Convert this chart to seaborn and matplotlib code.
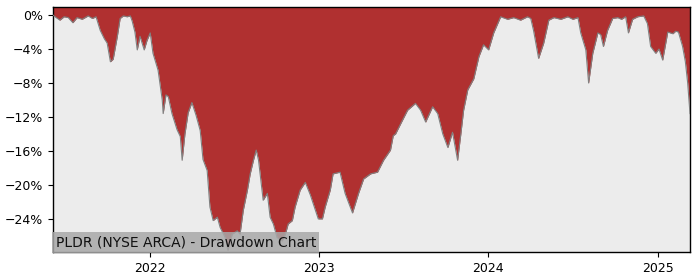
import matplotlib
matplotlib.use("Agg")
import matplotlib.pyplot as plt
import matplotlib.dates as mdates
from matplotlib.ticker import PercentFormatter, MultipleLocator
import seaborn as sns
import pandas as pd

dates = [
    "2021-06-05", "2021-06-12", "2021-06-20", "2021-06-29", "2021-07-08", "2021-07-18",
    "2021-07-27", "2021-08-07", "2021-08-20", "2021-08-29", "2021-09-06", "2021-09-15",
    "2021-09-24", "2021-09-30", "2021-10-07", "2021-10-13", "2021-10-22", "2021-10-28",
    "2021-11-04", "2021-11-12", "2021-11-19", "2021-11-23", "2021-11-29", "2021-12-04",
    "2021-12-10", "2021-12-19", "2021-12-25", "2022-01-01", "2022-01-07", "2022-01-18",
    "2022-01-27", "2022-01-29", "2022-02-04", "2022-02-09", "2022-02-17", "2022-02-28",
    "2022-03-07", "2022-03-11", "2022-03-17", "2022-03-24", "2022-04-01", "2022-04-10",
    "2022-04-19", "2022-04-25", "2022-05-04", "2022-05-10", "2022-05-17", "2022-05-26",
    "2022-06-01", "2022-06-12", "2022-06-18", "2022-06-27", "2022-07-08", "2022-07-14",
    "2022-07-21", "2022-07-30", "2022-08-05", "2022-08-12", "2022-08-18", "2022-08-23",
    "2022-09-02", "2022-09-11", "2022-09-17", "2022-09-24", "2022-10-02", "2022-10-13",
    "2022-10-20", "2022-10-26", "2022-11-04", "2022-11-10", "2022-11-21", "2022-12-02",
    "2022-12-13", "2022-12-24", "2022-12-30", "2023-01-08", "2023-01-14", "2023-01-25",
    "2023-01-31", "2023-02-15", "2023-02-26", "2023-03-14", "2023-03-27", "2023-04-07",
    "2023-04-22", "2023-05-07", "2023-05-20", "2023-06-04", "2023-06-10", "2023-06-15",
    "2023-06-26", "2023-07-11", "2023-07-28", "2023-08-08", "2023-08-19", "2023-09-03",
    "2023-09-14", "2023-09-25", "2023-10-06", "2023-10-16", "2023-10-27", "2023-11-03",
    "2023-11-09", "2023-11-18", "2023-12-01", "2023-12-12", "2023-12-22", "2024-01-02",
    "2024-01-13", "2024-01-28", "2024-02-12", "2024-02-25", "2024-03-11", "2024-03-26",
    "2024-04-02", "2024-04-08", "2024-04-19", "2024-04-30", "2024-05-11", "2024-05-22",
    "2024-06-06", "2024-06-21", "2024-07-02", "2024-07-13", "2024-07-19", "2024-07-30",
    "2024-08-05", "2024-08-14", "2024-08-25", "2024-08-31", "2024-09-06", "2024-09-15",
    "2024-09-26", "2024-10-07", "2024-10-15", "2024-10-24", "2024-10-30", "2024-11-08",
    "2024-11-19", "2024-12-02", "2024-12-10", "2024-12-17", "2024-12-28", "2025-01-04",
    "2025-01-12", "2025-01-23", "2025-02-03", "2025-02-09", "2025-02-15", "2025-02-24",
    "2025-03-02", "2025-03-07", "2025-03-12",
]

drawdown = [
    0.0, -0.3, -0.6, -0.2, -0.3, -0.9,
    -0.3, -0.5, -0.1, -0.4, -0.2, -1.8,
    -2.8, -3.3, -5.5, -5.2, -2.5, -0.4,
    -0.1, -0.2, -0.1, -0.7, -2.0, -4.1,
    -2.5, -4.1, -3.0, -2.1, -4.5, -6.5,
    -10.0, -11.6, -9.4, -9.6, -11.6, -13.5,
    -14.3, -17.1, -14.0, -11.5, -10.3, -11.8,
    -13.6, -17.0, -18.3, -22.6, -24.2, -23.8,
    -25.0, -26.2, -27.7, -25.8, -25.4, -25.8,
    -23.0, -20.6, -18.7, -17.1, -15.9, -17.1,
    -21.8, -21.0, -23.8, -24.6, -26.2, -26.6,
    -25.8, -24.6, -24.2, -22.6, -20.6, -19.7,
    -21.2, -23.0, -24.0, -24.0, -22.6, -20.6,
    -18.7, -18.5, -21.0, -23.3, -21.0, -19.3,
    -18.7, -18.5, -17.1, -15.9, -14.2, -14.0,
    -12.8, -11.2, -10.4, -11.2, -12.6, -10.8,
    -11.6, -14.0, -15.6, -13.8, -17.1, -14.0,
    -11.2, -8.8, -7.5, -4.9, -3.5, -4.1,
    -2.1, -0.2, -0.5, -0.3, -0.6, -0.2,
    -0.4, -1.8, -5.1, -3.3, -0.6, -0.3,
    -0.5, -0.2, -0.5, -0.3, -2.1, -4.1,
    -8.0, -4.5, -2.1, -2.3, -3.7, -1.8,
    -0.4, -0.3, -0.5, -0.2, -2.1, -0.5,
    -0.2, -0.1, -1.0, -3.7, -4.5, -4.0,
    -5.3, -2.0, -2.2, -1.9, -2.0, -3.7,
    -5.5, -8.0, -11.6,
]

ticker_label = "PLDR (NYSE ARCA) - Drawdown Chart"

df = pd.DataFrame({"date": pd.to_datetime(dates), "drawdown": drawdown})

fig = plt.figure(figsize=(7, 2.8), dpi=100)
ax = fig.add_axes([0.0757, 0.1, 0.91, 0.875])
ax.set_facecolor("#ececec")

ax.set_ylim(-27.9, 0.95)
y_top = ax.get_ylim()[1]
ax.fill_between(df["date"], df["drawdown"], y_top, color="#b03030", linewidth=0, zorder=2)
sns.lineplot(data=df, x="date", y="drawdown", ax=ax, color="#808080", linewidth=0.8, zorder=3)

ax.set_xlim(df["date"].min(), df["date"].max())
ax.set_ylim(-27.9, 0.95)
ax.yaxis.set_major_locator(MultipleLocator(4))
ax.yaxis.set_major_formatter(PercentFormatter(decimals=0))
ax.xaxis.set_major_locator(mdates.YearLocator())
ax.xaxis.set_major_formatter(mdates.DateFormatter("%Y"))
ax.set_xlabel("")
ax.set_ylabel("")
ax.tick_params(labelsize=9)
for s in ax.spines.values():
    s.set_color("black")
    s.set_linewidth(1)

ax.text(0.004, 0.012, ticker_label, transform=ax.transAxes, fontsize=10,
        ha="left", va="bottom", color="#111111", zorder=5,
        bbox=dict(facecolor="#a8a8a8", edgecolor="none", alpha=0.85, pad=2.5))

fig.savefig("out.png", dpi=100)
